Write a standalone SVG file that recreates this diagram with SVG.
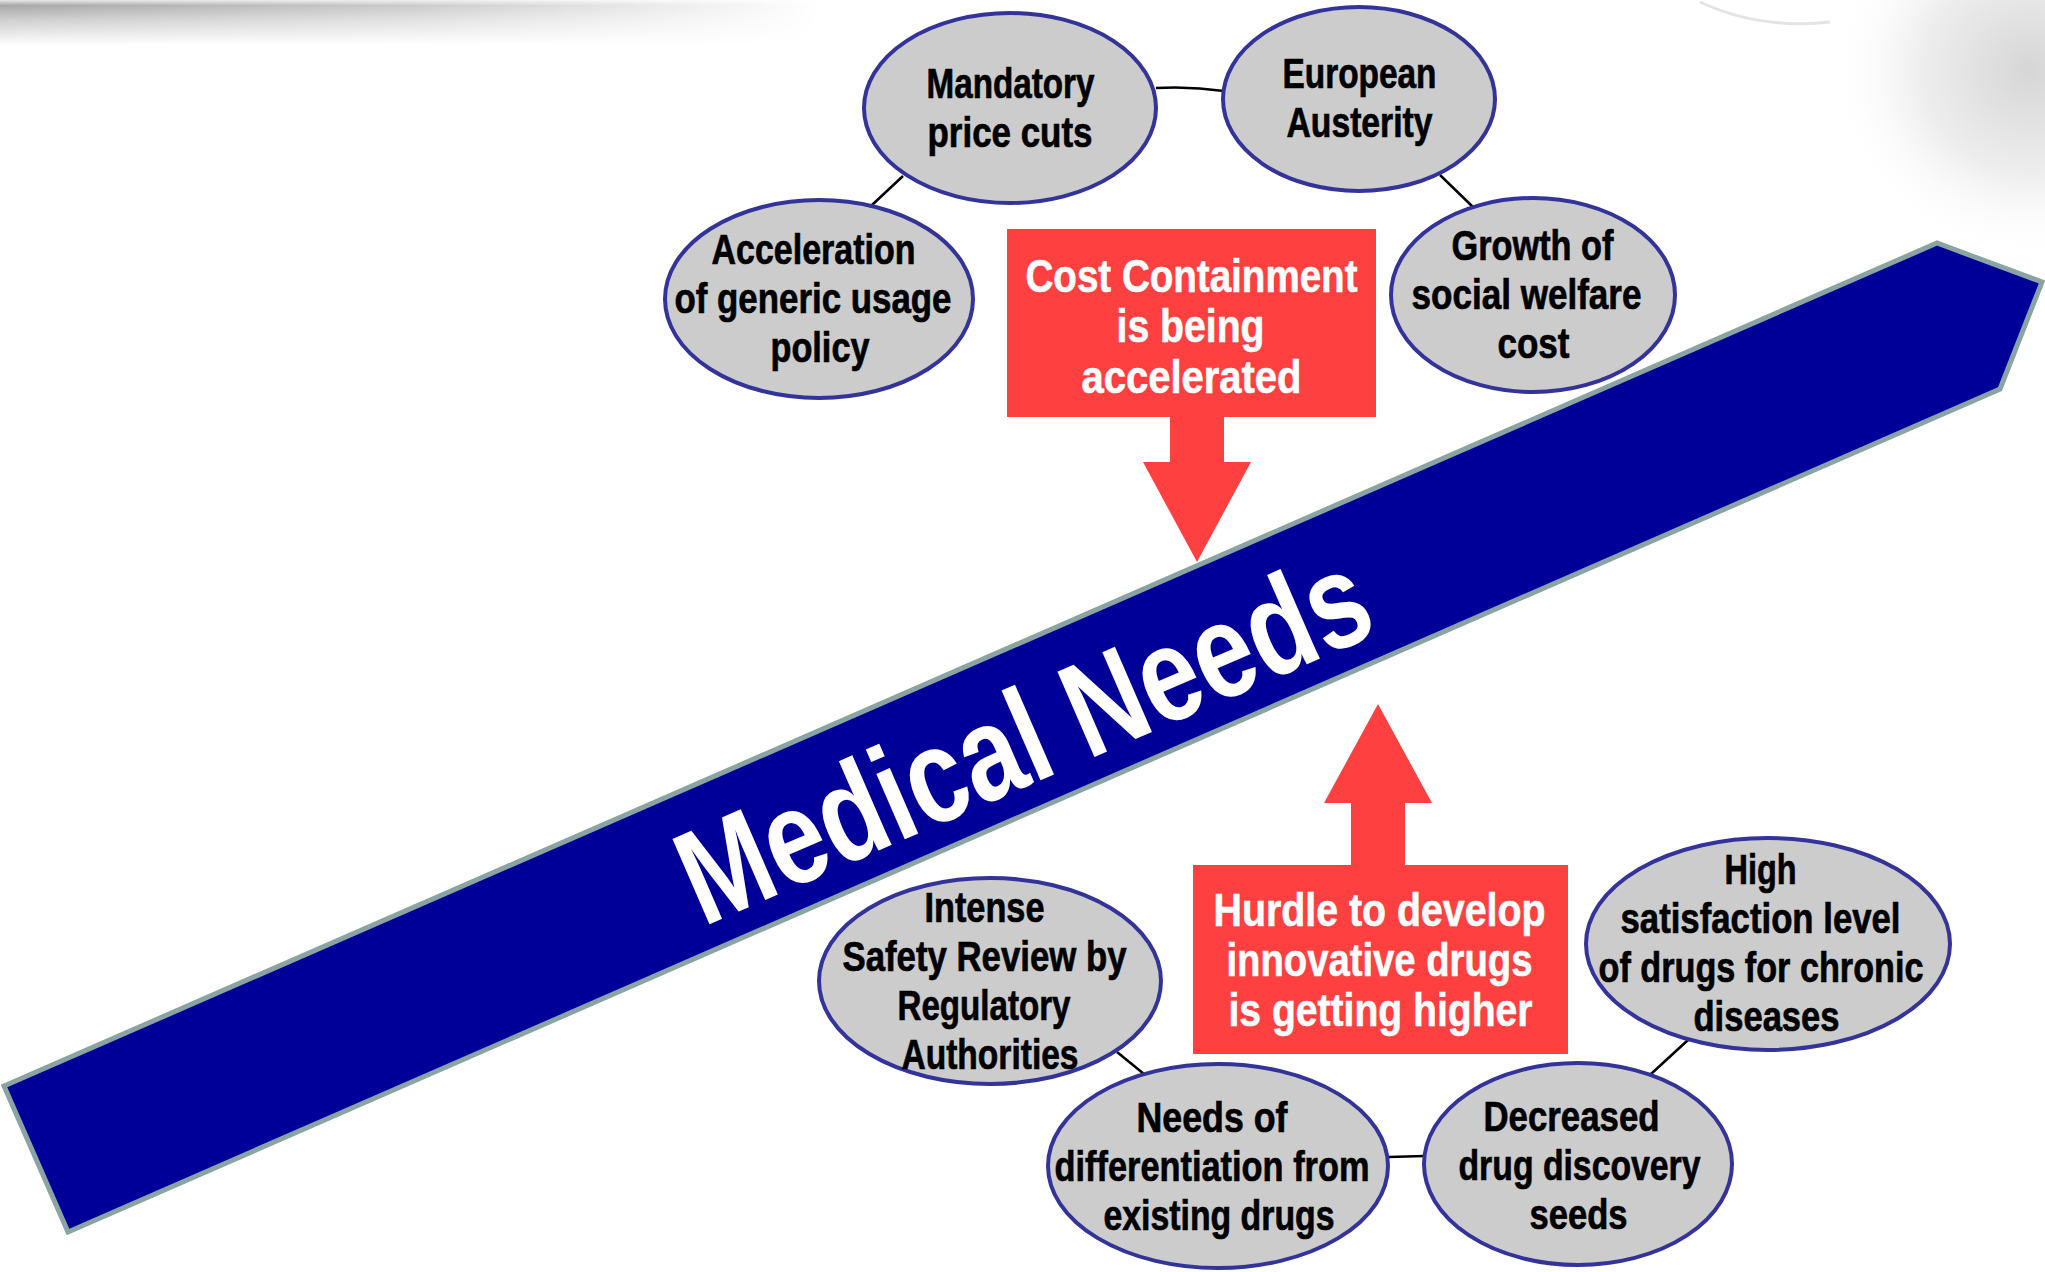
<svg xmlns="http://www.w3.org/2000/svg" width="2045" height="1272" viewBox="0 0 2045 1272">
  <defs>
    <linearGradient id="bandV" x1="0" y1="0" x2="0" y2="1">
      <stop offset="0" stop-color="#e6e6e6"/>
      <stop offset="0.12" stop-color="#a8a8a8"/>
      <stop offset="0.45" stop-color="#cfcfcf"/>
      <stop offset="1" stop-color="#ffffff"/>
    </linearGradient>
    <linearGradient id="bandH" x1="0" y1="0" x2="1" y2="0">
      <stop offset="0" stop-color="#fff" stop-opacity="1"/>
      <stop offset="0.5" stop-color="#fff" stop-opacity="0.6"/>
      <stop offset="1" stop-color="#fff" stop-opacity="0"/>
    </linearGradient>
    <mask id="bandMask">
      <rect x="0" y="0" width="820" height="45" fill="url(#bandH)"/>
    </mask>
    <radialGradient id="globe" cx="0.5" cy="0.5" r="0.5">
      <stop offset="0" stop-color="#d6d6d6"/>
      <stop offset="0.55" stop-color="#eeeeee"/>
      <stop offset="1" stop-color="#ffffff" stop-opacity="0"/>
    </radialGradient>
    <style>
      .node ellipse { fill: #cccccc; stroke: #333399; stroke-width: 4; }
      .node text, .box text { font-family: "Liberation Sans Narrow", "Liberation Sans", Arial, sans-serif; font-weight: bold; text-anchor: middle; }
      .node text { font-size: 43px; fill: #000000; stroke: #000000; stroke-width: 0.7; }
      .box rect, .box polygon { fill: #ff4040; }
      .box text { font-size: 46px; fill: #ffffff; stroke: #ffffff; stroke-width: 0.6; }
      .conn path { fill: none; stroke: #000000; stroke-width: 2.5; }
      .big { fill: #000099; stroke: #8aa3a3; stroke-width: 5; stroke-linejoin: miter; }
      .bigtext { font-family: "Liberation Sans", Arial, sans-serif; font-weight: bold; font-size: 135px; fill: #ffffff; }
    </style>
  </defs>

  <rect x="0" y="0" width="2045" height="1272" fill="#ffffff"/>

  <!-- background decorations -->
  <rect x="0" y="0" width="820" height="45" fill="url(#bandV)" mask="url(#bandMask)"/>
  <ellipse cx="2030" cy="70" rx="200" ry="190" fill="url(#globe)"/>
  <path d="M1700,2 Q1760,30 1830,22" fill="none" stroke="#e4e4e4" stroke-width="3"/>

  <!-- Main arrow: Medical Needs -->
  <g id="medical-needs">
    <polygon class="big" points="4,1086 1937,243 2042,282 2000,389 68,1232"/>
    <text class="bigtext" transform="translate(703,927) rotate(-23.5)" x="0" y="0" textLength="739" lengthAdjust="spacingAndGlyphs">Medical Needs</text>
  </g>

  <!-- connectors -->
  <g id="connectors" class="conn">
    <path d="M1156,88 Q1190,86 1224,91"/>
    <path d="M903,176 L872,205"/>
    <path d="M1440,175 L1474,208"/>
    <path d="M1117,1052 L1144,1074"/>
    <path d="M1388,1157 L1425,1156"/>
    <path d="M1651,1074 L1688,1040"/>
  </g>

  <!-- top ellipses -->
  <g id="mandatory-price-cuts" class="node">
    <ellipse cx="1010" cy="108" rx="146" ry="95"/>
    <text x="1010.5" y="98" textLength="168" lengthAdjust="spacingAndGlyphs">Mandatory</text>
    <text x="1010" y="147" textLength="165" lengthAdjust="spacingAndGlyphs">price cuts</text>
  </g>
  <g id="european-austerity" class="node">
    <ellipse cx="1359" cy="99" rx="136" ry="92"/>
    <text x="1359.5" y="88" textLength="154" lengthAdjust="spacingAndGlyphs">European</text>
    <text x="1359.5" y="137" textLength="146" lengthAdjust="spacingAndGlyphs">Austerity</text>
  </g>
  <g id="acceleration-generic" class="node">
    <ellipse cx="819" cy="299" rx="154" ry="99"/>
    <text x="813.5" y="264" textLength="204" lengthAdjust="spacingAndGlyphs">Acceleration</text>
    <text x="813" y="313" textLength="277" lengthAdjust="spacingAndGlyphs">of generic usage</text>
    <text x="820" y="362" textLength="99" lengthAdjust="spacingAndGlyphs">policy</text>
  </g>
  <g id="growth-social-welfare" class="node">
    <ellipse cx="1533" cy="295" rx="142" ry="97"/>
    <text x="1532.5" y="260" textLength="162" lengthAdjust="spacingAndGlyphs">Growth of</text>
    <text x="1526.5" y="309" textLength="230" lengthAdjust="spacingAndGlyphs">social welfare</text>
    <text x="1533.5" y="358" textLength="72" lengthAdjust="spacingAndGlyphs">cost</text>
  </g>

  <!-- cost containment box with down arrow -->
  <g id="cost-containment" class="box">
    <rect x="1007" y="229" width="369" height="188"/>
    <polygon points="1170,416 1224,416 1224,462 1251,462 1197,562 1143,462 1170,462"/>
    <text x="1191.5" y="292" textLength="332" lengthAdjust="spacingAndGlyphs">Cost Containment</text>
    <text x="1190.5" y="342" textLength="148" lengthAdjust="spacingAndGlyphs">is being</text>
    <text x="1191.5" y="393" textLength="220" lengthAdjust="spacingAndGlyphs">accelerated</text>
  </g>

  <!-- hurdle box with up arrow -->
  <g id="hurdle" class="box">
    <polygon points="1351,866 1405,866 1405,803 1432,803 1378,704 1324,803 1351,803"/>
    <rect x="1193" y="865" width="375" height="189"/>
    <text x="1379.5" y="926" textLength="332" lengthAdjust="spacingAndGlyphs">Hurdle to develop</text>
    <text x="1379.5" y="976" textLength="306" lengthAdjust="spacingAndGlyphs">innovative drugs</text>
    <text x="1380.5" y="1026" textLength="304" lengthAdjust="spacingAndGlyphs">is getting higher</text>
  </g>

  <!-- bottom ellipses -->
  <g id="intense-safety-review" class="node">
    <ellipse cx="990" cy="981" rx="171" ry="103"/>
    <text x="984.5" y="922" textLength="120" lengthAdjust="spacingAndGlyphs">Intense</text>
    <text x="984.5" y="971" textLength="284" lengthAdjust="spacingAndGlyphs">Safety Review by</text>
    <text x="984" y="1020" textLength="173" lengthAdjust="spacingAndGlyphs">Regulatory</text>
    <text x="990" y="1069" textLength="177" lengthAdjust="spacingAndGlyphs">Authorities</text>
  </g>
  <g id="high-satisfaction" class="node">
    <ellipse cx="1768" cy="944" rx="182" ry="106"/>
    <text x="1760.5" y="884" textLength="72" lengthAdjust="spacingAndGlyphs">High</text>
    <text x="1760.5" y="933" textLength="280" lengthAdjust="spacingAndGlyphs">satisfaction level</text>
    <text x="1761" y="982" textLength="325" lengthAdjust="spacingAndGlyphs">of drugs for chronic</text>
    <text x="1766.5" y="1031" textLength="146" lengthAdjust="spacingAndGlyphs">diseases</text>
  </g>
  <g id="needs-differentiation" class="node">
    <ellipse cx="1218" cy="1166" rx="170" ry="102"/>
    <text x="1212" y="1132" textLength="151" lengthAdjust="spacingAndGlyphs">Needs of</text>
    <text x="1212" y="1181" textLength="315" lengthAdjust="spacingAndGlyphs">differentiation from</text>
    <text x="1219" y="1230" textLength="231" lengthAdjust="spacingAndGlyphs">existing drugs</text>
  </g>
  <g id="decreased-seeds" class="node">
    <ellipse cx="1578" cy="1164" rx="154" ry="101"/>
    <text x="1571.5" y="1131" textLength="176" lengthAdjust="spacingAndGlyphs">Decreased</text>
    <text x="1579.5" y="1180" textLength="242" lengthAdjust="spacingAndGlyphs">drug discovery</text>
    <text x="1578.5" y="1229" textLength="98" lengthAdjust="spacingAndGlyphs">seeds</text>
  </g>
</svg>
